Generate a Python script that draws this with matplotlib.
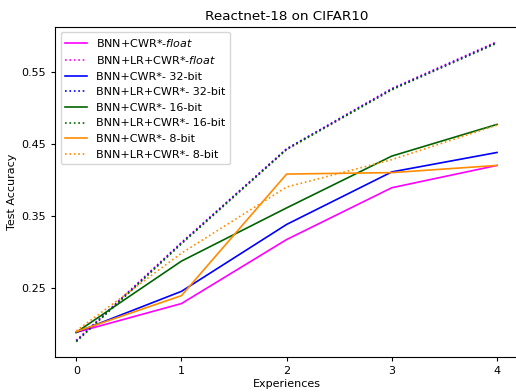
import matplotlib

matplotlib.use("Agg")
import matplotlib.pyplot as plt

experiences = [0, 1, 2, 3, 4]

cwr_float = [0.188, 0.228, 0.317, 0.389, 0.420]
lr_cwr_float = [0.177, 0.313, 0.443, 0.527, 0.592]
cwr_32 = [0.188, 0.245, 0.338, 0.411, 0.438]
lr_cwr_32 = [0.176, 0.312, 0.443, 0.526, 0.591]
cwr_16 = [0.188, 0.287, 0.361, 0.433, 0.477]
lr_cwr_16 = [0.175, 0.311, 0.442, 0.525, 0.590]
cwr_8 = [0.189, 0.239, 0.408, 0.410, 0.420]
lr_cwr_8 = [0.190, 0.298, 0.390, 0.428, 0.476]

labels = [
    r"BNN+CWR*-$\it{float}$",
    r"BNN+LR+CWR*-$\it{float}$",
    "BNN+CWR*- 32-bit",
    "BNN+LR+CWR*- 32-bit",
    "BNN+CWR*- 16-bit",
    "BNN+LR+CWR*- 16-bit",
    "BNN+CWR*- 8-bit",
    "BNN+LR+CWR*- 8-bit",
]
series = [cwr_float, lr_cwr_float, cwr_32, lr_cwr_32, cwr_16, lr_cwr_16, cwr_8, lr_cwr_8]
colors = ["magenta", "magenta", "blue", "blue", "darkgreen", "darkgreen",
          "darkorange", "darkorange"]
styles = ["-", ":"] * 4

plt.rcParams["mathtext.fontset"] = "dejavusans"

fig = plt.figure(figsize=(5.16, 3.92), dpi=100)
# right spine falls just outside the picture, as in the original crop
ax = fig.add_axes([0.107, 0.090, 0.897, 0.842])

for vals, lab, col, ls in zip(series, labels, colors, styles):
    ax.plot(experiences, vals, color=col, linestyle=ls, linewidth=1.2, label=lab)

ax.set_yticks([0.25, 0.35, 0.45, 0.55])
ax.set_xticks(experiences)
ax.tick_params(labelsize=8, width=0.8, length=3)
ax.set_xlabel("Experiences", fontsize=8, labelpad=2)
ax.set_ylabel("Test Accuracy", fontsize=8, labelpad=3)
ax.set_title("Reactnet-18 on CIFAR10", fontsize=9.7, pad=5)
ax.legend(loc="upper left", fontsize=8)

fig.savefig("out.png", dpi=100)
plt.close(fig)
